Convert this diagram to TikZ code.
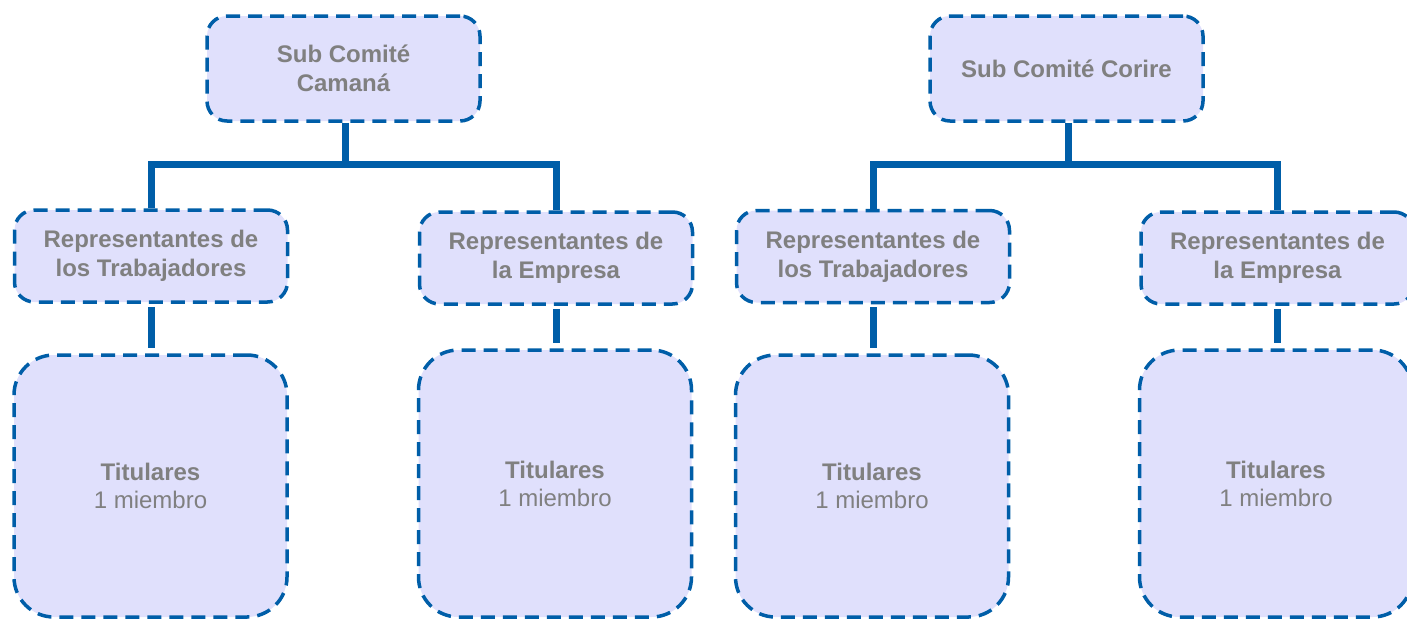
\documentclass[tikz,border=0pt]{standalone}
\usepackage{fontspec}
\setmainfont{Liberation Sans}
\definecolor{boxblue}{RGB}{0,94,168}
\definecolor{boxfill}{RGB}{224,224,252}
\definecolor{txtgray}{RGB}{128,128,128}
\begin{document}
\begin{tikzpicture}[x=1pt,y=-1pt,
  dbox/.style={draw=boxblue, fill=boxfill, line width=3.5pt, dash pattern=on 14pt off 8pt,
    rounded corners=20pt, minimum width=273pt, align=center, text=txtgray, inner sep=0pt,
    font=\fontsize{24}{29}\selectfont\bfseries},
  topbox/.style={dbox, minimum height=105pt},
  repbox/.style={dbox, minimum height=92pt},
  botbox/.style={dbox, rounded corners=40pt, font=\fontsize{24}{28}\selectfont},
  conn/.style={draw=boxblue, line width=7pt},
  lowconn/.style={conn, shorten <=3pt, shorten >=5pt}
]
\useasboundingbox (0,0) rectangle (1407,619);

% left group
\node[topbox] (top1) at (343.5,68.5) {Sub Comité\\Camaná};
\node[repbox] (repL1) at (151,256) {Representantes de\\los Trabajadores};
\node[repbox] (repR1) at (556,258) {Representantes de\\la Empresa};
\node[botbox, minimum height=262pt] (botL1) at (150.5,486) {\textbf{Titulares}\\1 miembro};
\node[botbox, minimum height=267pt] (botR1) at (555,483.5) {\textbf{Titulares}\\1 miembro};
\coordinate (bar1) at (345.5,164);
\draw[conn] (top1.south -| bar1) -- (bar1);
\draw[conn] (repL1.north) |- (bar1) -| (repR1.north);
\draw[lowconn] (repL1.south) -- (repL1.south |- botL1.north);
\draw[lowconn] (repR1.south) -- (repR1.south |- botR1.north);

% right group
\node[topbox] (top2) at (1066.5,68.5) {Sub Comité Corire};
\node[repbox] (repL2) at (873,256.5) {Representantes de\\los Trabajadores};
\node[repbox] (repR2) at (1277.5,258) {Representantes de\\la Empresa};
\node[botbox, minimum height=262pt] (botL2) at (872,486) {\textbf{Titulares}\\1 miembro};
\node[botbox, minimum height=267pt] (botR2) at (1276,483.5) {\textbf{Titulares}\\1 miembro};
\coordinate (bar2) at (1068,164);
\draw[conn] (top2.south -| bar2) -- (bar2);
\draw[conn] (repL2.north) |- (bar2) -| (repR2.north);
\draw[lowconn] (repL2.south) -- (repL2.south |- botL2.north);
\draw[lowconn] (repR2.south) -- (repR2.south |- botR2.north);
\end{tikzpicture}
\end{document}
